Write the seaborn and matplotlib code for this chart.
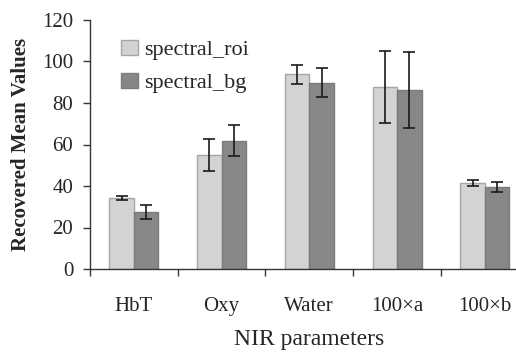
import matplotlib
matplotlib.use("Agg")
import matplotlib.pyplot as plt
import seaborn as sns
import pandas as pd
from matplotlib.ticker import FixedLocator, NullFormatter, FixedFormatter

categories = ["HbT", "Oxy", "Water", "100×a", "100×b"]
series = ["spectral_roi", "spectral_bg"]
roi_values = [34.2, 54.8, 93.8, 87.8, 41.3]
bg_values = [27.4, 61.8, 89.8, 86.2, 39.6]
roi_errors = [1.0, 7.8, 4.7, 17.2, 1.5]
bg_errors = [3.5, 7.4, 7.0, 18.3, 2.4]
y_ticks = [0, 20, 40, 60, 80, 100, 120]

sns.set_style("ticks")
plt.rcParams["font.family"] = ["Liberation Serif", "DejaVu Serif"]

df = pd.DataFrame({
    "param": categories * 2,
    "series": [series[0]] * len(categories) + [series[1]] * len(categories),
    "value": roi_values + bg_values,
})

fig = plt.figure(figsize=(5.16, 3.52), dpi=100)
ax = fig.add_axes([90 / 516, 1 - 269 / 352, 438.7 / 516, 249 / 352])

palette = {series[0]: "#d3d3d3", series[1]: "#878787"}
sns.barplot(data=df, x="param", y="value", hue="series", order=categories,
            hue_order=series, palette=palette, width=0.56, gap=0,
            errorbar=None, saturation=1, ax=ax)

edge_colors = ["#a6a6a6", "#7c7c7c"]
errs = [roi_errors, bg_errors]
for cont, ec, er in zip(ax.containers, edge_colors, errs):
    xs, ys = [], []
    for bar in cont:
        bar.set_edgecolor(ec)
        bar.set_linewidth(1.0)
        xs.append(bar.get_x() + bar.get_width() / 2)
        ys.append(bar.get_height())
    ax.errorbar(xs, ys, yerr=er, fmt="none", ecolor="#1a1a1a",
                elinewidth=1.2, capsize=4.2, capthick=1.2, zorder=5)

ax.set_ylim(0, 120)
ax.set_xlim(-0.5, len(categories) - 0.5)
ax.set_yticks(y_ticks)
ax.set_yticklabels([str(t) for t in y_ticks], fontsize=15)

# category boundaries as major ticks, labels at centers via minor ticks
ax.xaxis.set_major_locator(FixedLocator([i - 0.5 for i in range(len(categories) + 1)]))
ax.xaxis.set_major_formatter(NullFormatter())
ax.xaxis.set_minor_locator(FixedLocator(list(range(len(categories)))))
ax.xaxis.set_minor_formatter(FixedFormatter(categories))
ax.tick_params(axis="x", which="major", direction="out", length=5, width=1, color="#333333")
ax.tick_params(axis="x", which="minor", length=0, pad=20, labelsize=15)
ax.tick_params(axis="y", direction="out", length=5, width=1, color="#333333", pad=7)

for s in ["top", "right"]:
    ax.spines[s].set_visible(False)
for s in ["left", "bottom"]:
    ax.spines[s].set_color("#333333")
    ax.spines[s].set_linewidth(1.0)

ax.set_xlabel("NIR parameters", fontsize=17)
ax.xaxis.set_label_coords(0.5, (269 - 329) / 249)
ax.xaxis.label.set_va("top")
ax.set_ylabel("Recovered Mean Values", fontsize=15, fontweight="bold")
ax.yaxis.set_label_coords((31 - 90) / 438.7, 0.5)

leg = ax.legend(frameon=False, loc="upper left", bbox_to_anchor=(0.071, 0.92),
                fontsize=16, handlelength=0.75, handleheight=0.7,
                handletextpad=0.3, labelspacing=0.55, borderaxespad=0,
                borderpad=0)
for h, ec in zip(leg.legend_handles, edge_colors):
    h.set_edgecolor(ec)
    h.set_linewidth(1.0)

fig.savefig("out.png", dpi=100)
